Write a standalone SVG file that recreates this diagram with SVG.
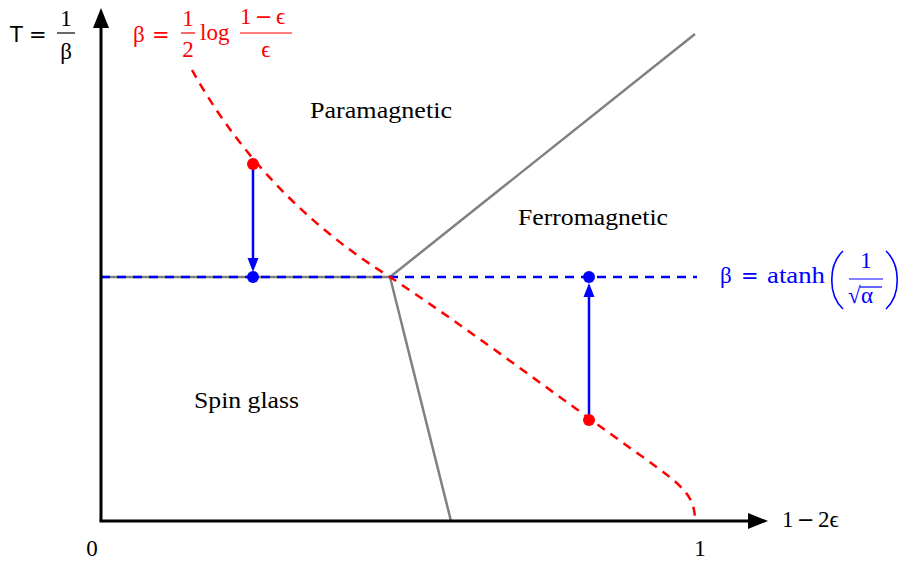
<svg xmlns="http://www.w3.org/2000/svg" width="902" height="562" viewBox="0 0 902 562">
<style>
.lbl{font-family:"Liberation Serif","DejaVu Serif",serif;font-size:23px;fill:#000}
.eq{font-family:"DejaVu Sans",sans-serif;font-size:21px}
.red{fill:#ff0000}
.blue{fill:#0000ff}
.gray{stroke:#808080;stroke-width:2.5;fill:none}
.dash{stroke-width:2.5;stroke-dasharray:9,7;fill:none}
</style>
<rect width="902" height="562" fill="#fff"/>
<g id="regions">
<line class="gray" x1="101" y1="277" x2="390" y2="277"/>
<line class="gray" x1="390" y1="277" x2="695" y2="34"/>
<line class="gray" x1="390" y1="277" x2="451" y2="521"/>
</g>
<g id="connectors">
<path class="dash" stroke="#0000ff" d="M101,277 H697"/>
<path class="dash" stroke="#ff0000" d="M192,70 C228,135 290,215 390,277 C470,330 560,398 640,455 C682,485 695,495 695,521"/>
<line x1="253" y1="164" x2="253" y2="262" stroke="#0000ff" stroke-width="2.5"/>
<polygon points="253,272 247.5,258 258.5,258" fill="#0000ff"/>
<line x1="589" y1="420" x2="589" y2="292" stroke="#0000ff" stroke-width="2.5"/>
<polygon points="589,283 583.5,297 594.5,297" fill="#0000ff"/>
</g>
<g id="axes">
<line x1="101" y1="521" x2="101" y2="24" stroke="#000" stroke-width="3"/>
<polygon points="101,8 93,28 109,28" fill="#000"/>
<line x1="99.5" y1="521" x2="752" y2="521" stroke="#000" stroke-width="3"/>
<polygon points="768,521 748,513 748,529" fill="#000"/>
</g>
<g id="points">
<circle cx="253" cy="164" r="6" fill="#ff0000"/>
<circle cx="589" cy="420" r="6" fill="#ff0000"/>
<circle cx="253" cy="277" r="6" fill="#0000ff"/>
<circle cx="589" cy="277" r="6" fill="#0000ff"/>
</g>
<g id="node-paramagnetic"><text class="lbl" x="310" y="118" textLength="142" lengthAdjust="spacingAndGlyphs">Paramagnetic</text></g>
<g id="node-ferromagnetic"><text class="lbl" x="518" y="225" textLength="150" lengthAdjust="spacingAndGlyphs">Ferromagnetic</text></g>
<g id="node-spinglass"><text class="lbl" x="194" y="408" textLength="105" lengthAdjust="spacingAndGlyphs">Spin glass</text></g>
<g id="ticks">
<text class="lbl" x="92" y="556" text-anchor="middle">0</text>
<text class="lbl" x="700" y="556" text-anchor="middle">1</text>
<text class="lbl" x="782" y="527">1</text>
<text class="eq" x="797" y="527">−</text>
<text class="lbl" x="818" y="527">2ϵ</text>
</g>
<g id="ylabel">
<text x="10" y="42" font-family="DejaVu Sans,sans-serif" font-size="21">T</text>
<text class="eq" x="29" y="42">=</text>
<text class="lbl" x="66" y="26" text-anchor="middle">1</text>
<line x1="57" y1="33" x2="75" y2="33" stroke="#000" stroke-width="1.2"/>
<text class="lbl" x="66" y="59" text-anchor="middle">β</text>
</g>
<g id="beta-eps">
<text class="lbl red" x="133" y="42">β</text>
<text class="eq red" x="152" y="42">=</text>
<text class="lbl red" x="188" y="26" text-anchor="middle">1</text>
<line x1="181" y1="33" x2="195" y2="33" stroke="#ff0000" stroke-width="1.2"/>
<text class="lbl red" x="188" y="57" text-anchor="middle">2</text>
<text class="lbl red" x="200" y="40">log</text>
<text class="lbl red" x="240" y="24">1</text>
<text class="eq red" x="255" y="24">−</text>
<text class="lbl red" x="276" y="24">ϵ</text>
<line x1="240" y1="33" x2="292" y2="33" stroke="#ff0000" stroke-width="1.2"/>
<text class="lbl red" x="266" y="57" text-anchor="middle">ϵ</text>
</g>
<g id="beta-alpha">
<text class="lbl blue" x="720" y="283">β</text>
<text class="eq blue" x="741" y="283">=</text>
<text class="lbl blue" x="767" y="283" textLength="58" lengthAdjust="spacingAndGlyphs">atanh</text>
<path d="M843,251 C828,265 828,295 843,309" stroke="#0000ff" stroke-width="1.6" fill="none"/>
<path d="M886,251 C901,265 901,295 886,309" stroke="#0000ff" stroke-width="1.6" fill="none"/>
<text class="lbl blue" x="866" y="268" text-anchor="middle">1</text>
<line x1="849" y1="279" x2="883" y2="279" stroke="#0000ff" stroke-width="1.2"/>
<text class="lbl blue" x="848" y="303">√</text>
<line x1="860" y1="287" x2="882" y2="287" stroke="#0000ff" stroke-width="1.2"/>
<text class="lbl blue" x="861" y="303">α</text>
</g>
</svg>
